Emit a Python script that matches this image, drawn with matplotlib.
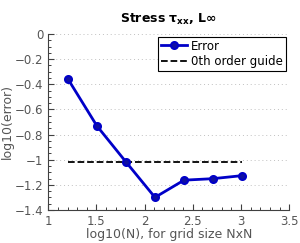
import matplotlib
matplotlib.use("Agg")
import matplotlib.pyplot as plt
from matplotlib.ticker import MultipleLocator

log_n = [1.204, 1.505, 1.806, 2.107, 2.408, 2.709, 3.010]
log_err = [-0.358, -0.732, -1.018, -1.300, -1.163, -1.151, -1.127]
guide_x = [1.204, 3.010]
guide_y = [-1.016, -1.016]

plt.rcParams['font.family'] = ['DejaVu Sans']
fig = plt.figure(figsize=(3.0, 2.43), dpi=100)
ax = fig.add_axes([0.161, 0.136, 0.803, 0.724])

ax.plot(log_n, log_err, color='#0000c8', lw=2, marker='o', ms=5,
        mfc='#1010a0', mec='#0000c8', mew=1.5, label='Error', zorder=3)
ax.plot(guide_x, guide_y, 'k--', lw=1.3, label='0th order guide', zorder=2)

ax.set_xlim(1, 3.5)
ax.set_ylim(-1.4, 0)
ax.xaxis.set_minor_locator(MultipleLocator(0.1))
ax.yaxis.set_minor_locator(MultipleLocator(0.05))
ax.set_xticks([1, 1.5, 2, 2.5, 3, 3.5])
ax.set_xticklabels(['1', '1.5', '2', '2.5', '3', '3.5'])
ax.set_yticks([0, -0.2, -0.4, -0.6, -0.8, -1, -1.2, -1.4])
ax.set_yticklabels(['0', '\u22120.2', '\u22120.4', '\u22120.6', '\u22120.8', '\u22121', '\u22121.2', '\u22121.4'])

ax.grid(axis='y', which='major', linestyle=(0, (1, 3)), color='#c0c0c0', lw=0.7)
for s in ['top', 'right']:
    ax.spines[s].set_visible(False)
for s in ['left', 'bottom']:
    ax.spines[s].set_color('#404040')
    ax.spines[s].set_linewidth(0.8)
ax.tick_params(which='both', direction='in', colors='#404040', labelcolor='#555555', labelsize=8.5)
ax.tick_params(which='major', length=4)
ax.tick_params(which='minor', length=2.5, width=0.7)

ax.set_xlabel('log10(N), for grid size NxN', fontsize=9, color='#555555', labelpad=0)
ax.set_ylabel('log10(error)', fontsize=9, color='#555555', labelpad=1)
ax.set_title(r'Stress $\mathbf{\tau_{xx}}$, L$\mathbf{\infty}$', fontsize=9, fontweight='bold', pad=8)

leg = ax.legend(loc='upper right', bbox_to_anchor=(0.985, 0.985), fontsize=8.5,
                frameon=True, fancybox=False, framealpha=1, borderpad=0.25,
                handlelength=2.2, handletextpad=0.3, labelspacing=0.2, borderaxespad=0)
leg.get_frame().set_edgecolor('black')
leg.get_frame().set_linewidth(0.8)

fig.savefig('out.png', dpi=100)
